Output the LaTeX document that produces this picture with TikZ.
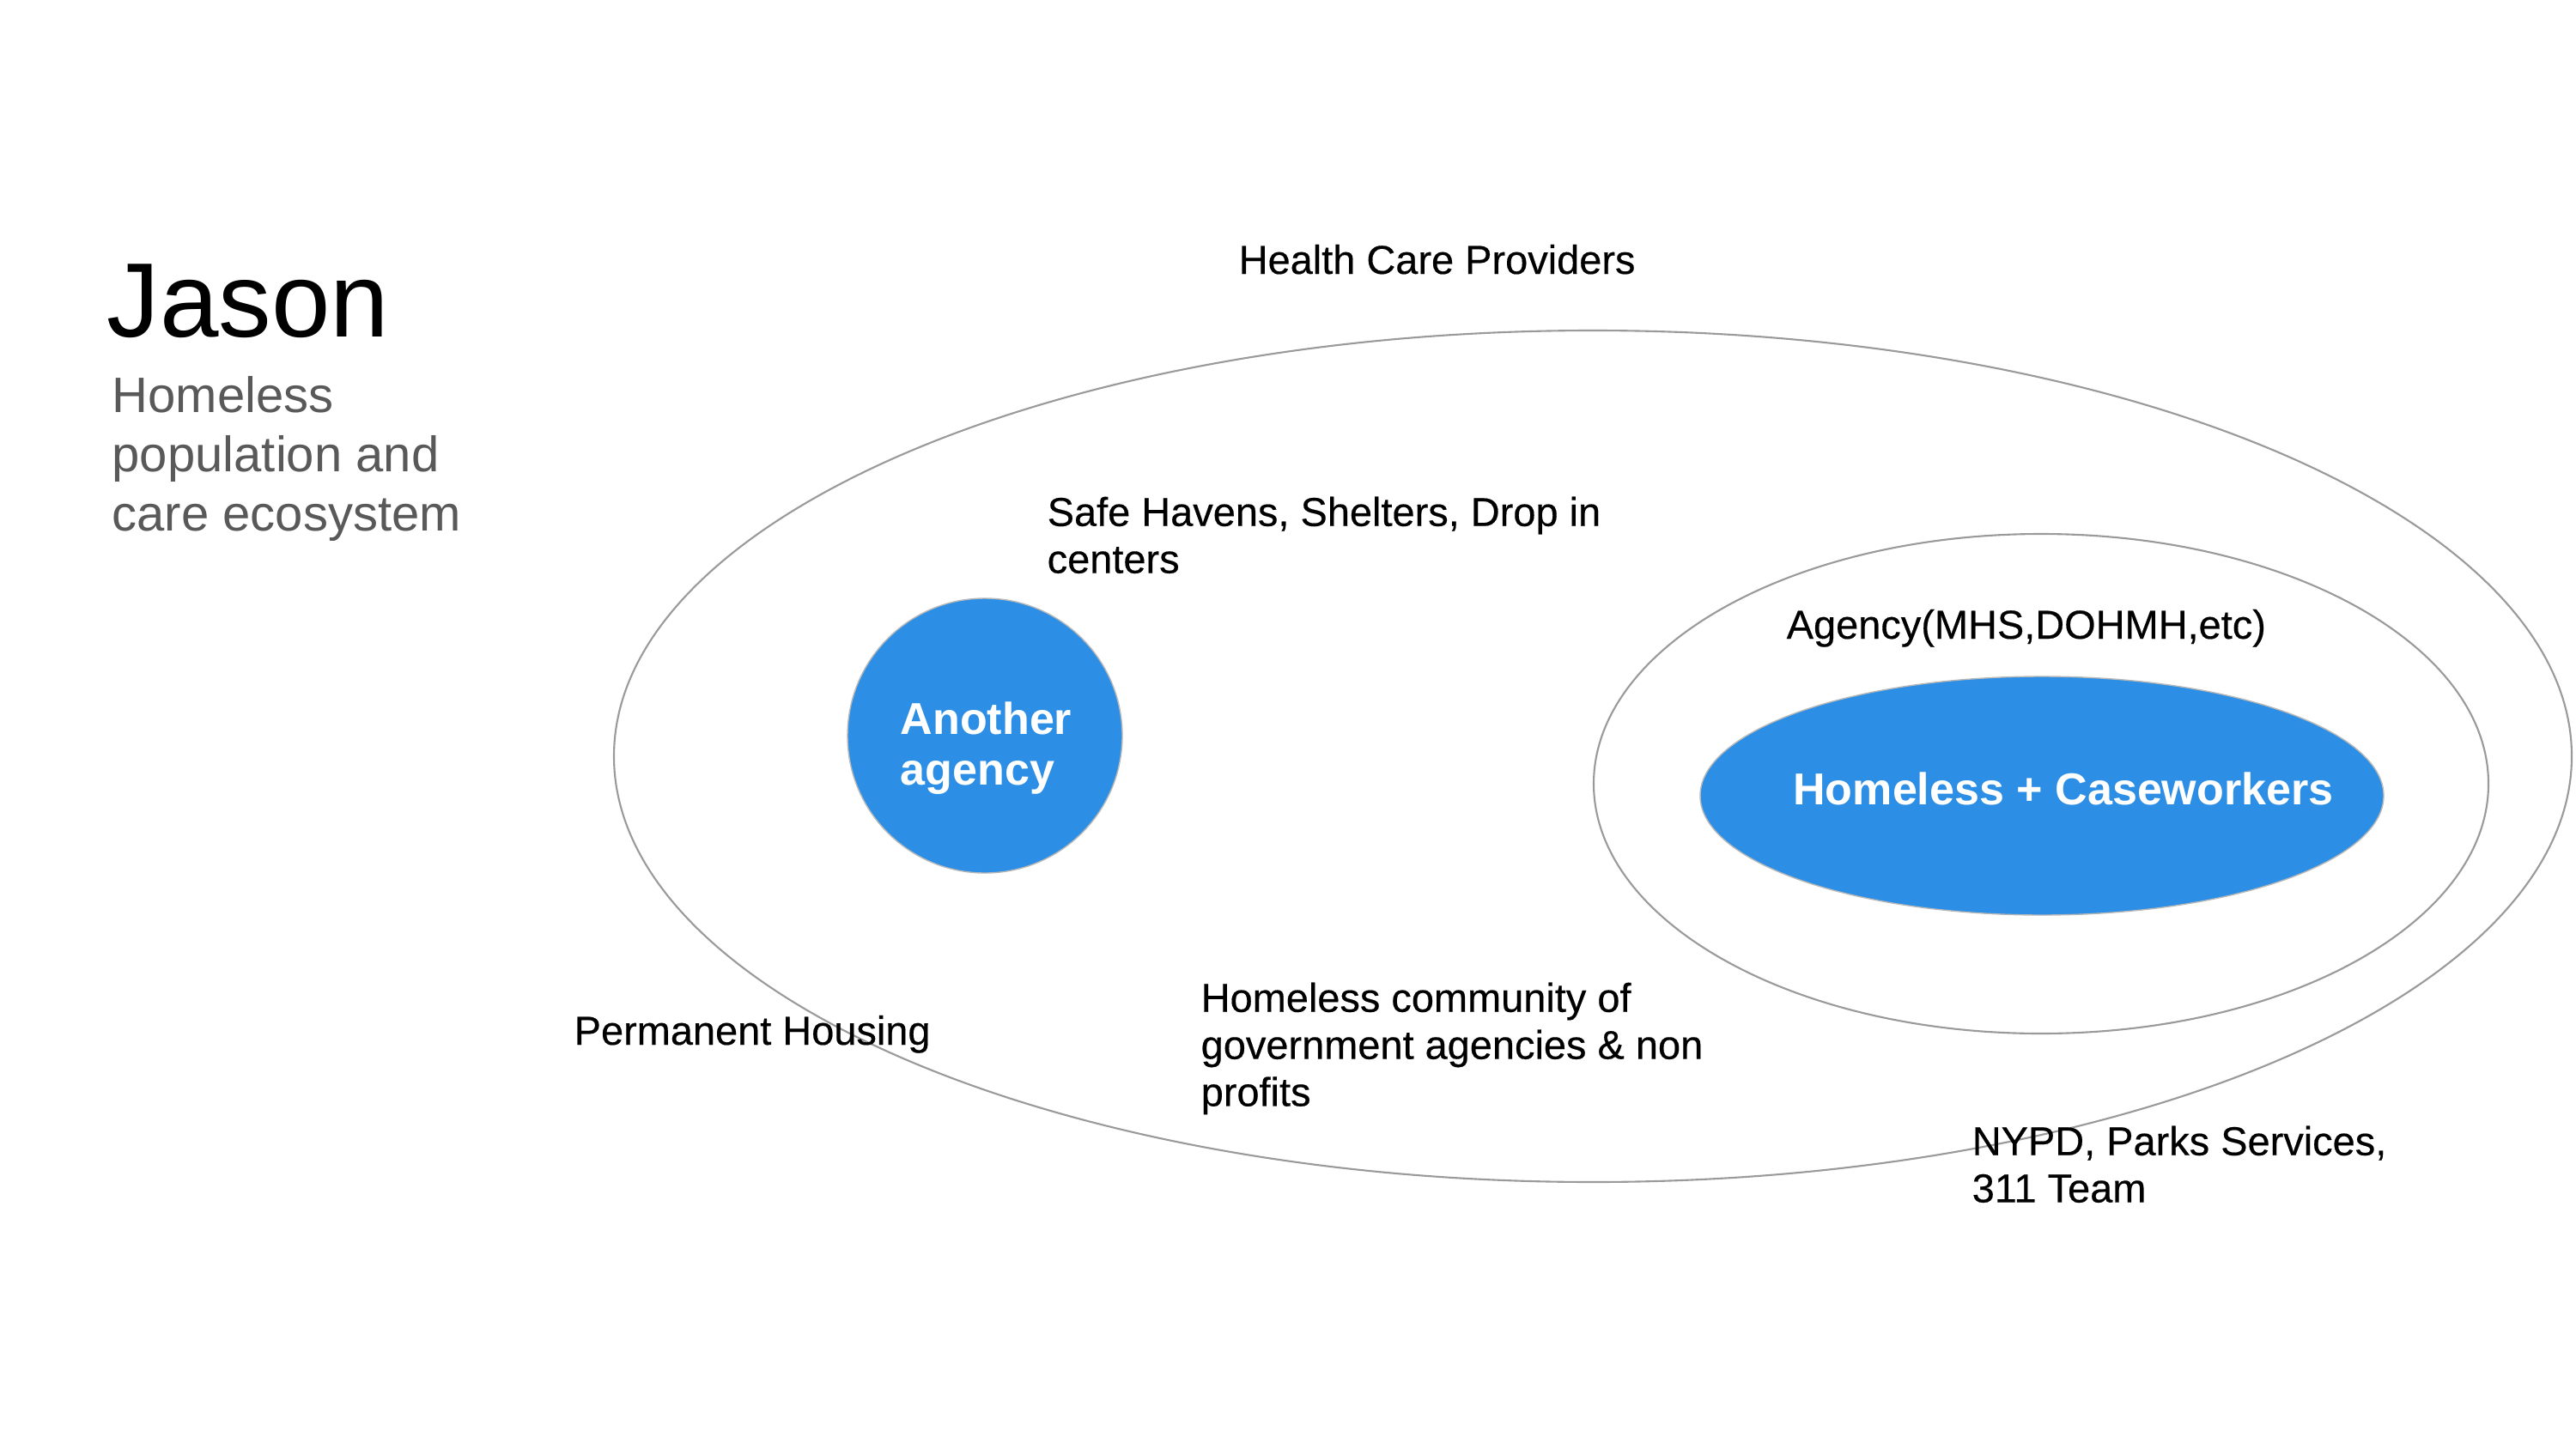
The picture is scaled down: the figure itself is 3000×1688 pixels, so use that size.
\documentclass[tikz,border=0pt]{standalone}
\usepackage{fontspec}
\setmainfont{Liberation Sans}
\newfontfamily\lblfont[FakeBold=0.35]{Liberation Sans}
\definecolor{agblue}{HTML}{2C8FE5}
\definecolor{subgray}{HTML}{595959}
\definecolor{ringgray}{HTML}{9A9A9A}
\begin{document}
\begin{tikzpicture}[x=0.01cm,y=-0.01cm,
  ring/.style={draw=ringgray,line width=0.6pt,fill=none},
  blob/.style={draw=ringgray!70,line width=0.4pt,fill=agblue},
  lbl/.style={inner sep=0pt,font=\lblfont\fontsize{13.35pt}{15.6pt}\selectfont,align=left,text=black},
  bluetxt/.style={inner sep=0pt,font=\fontsize{14.8pt}{16.8pt}\selectfont\bfseries,text=white,align=left}]
\useasboundingbox[fill=white] (0,0) rectangle (3000,1688);
% title
\node[inner sep=0pt,anchor=base west,font=\fontsize{35pt}{42pt}\selectfont] (title) at (124,392) {Jason};
\node[inner sep=0pt,anchor=north west,align=left,text=subgray,font=\fontsize{16.5pt}{19.6pt}\selectfont] (sub) at (130,438) {Homeless\\population and\\care ecosystem};
% rings
\draw[ring] (1855,881) ellipse [x radius=1140,y radius=496];
\draw[ring] (2377,913) ellipse [x radius=521,y radius=291];
% blue shapes
\draw[blob] (1147,857) circle [radius=160];
\draw[blob] (2378,927) ellipse [x radius=398,y radius=139];
\node[bluetxt,anchor=north west] (another) at (1048,817) {Another\\agency};
\node[bluetxt,anchor=base] (hc) at (2403,937) {Homeless + Caseworkers};
% labels
\node[lbl,anchor=base west] (hcp) at (1442,319) {Health Care Providers};
\node[lbl,anchor=north west] (safe) at (1219,578) {Safe Havens, Shelters, Drop in\\centers};
\node[lbl,anchor=base west] (agency) at (2080,744) {Agency(MHS,DOHMH,etc)};
\node[lbl,anchor=base west] (perm) at (668,1217) {Permanent Housing};
\node[lbl,anchor=north west] (comm) at (1398,1144) {Homeless community of\\government agencies \& non\\profits};
\node[lbl,anchor=north west] (nypd) at (2296,1311) {NYPD, Parks Services,\\311 Team};
\end{tikzpicture}
\end{document}
